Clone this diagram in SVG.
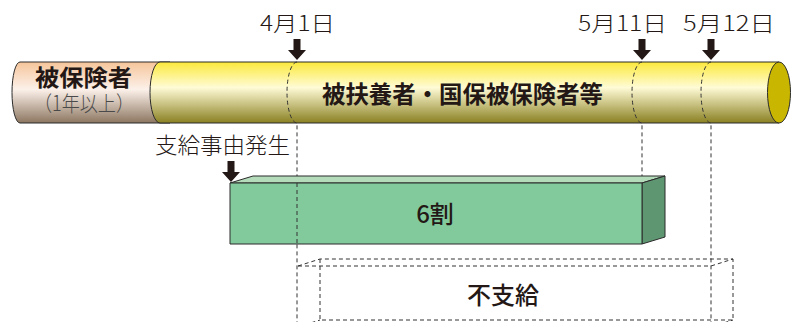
<svg xmlns="http://www.w3.org/2000/svg" width="797" height="322" viewBox="0 0 797 322">
<defs>
<linearGradient id="gPeach" x1="0" y1="0" x2="0" y2="1">
<stop offset="0" stop-color="#f6c59a"/>
<stop offset="0.45" stop-color="#fcf1ea"/>
<stop offset="1" stop-color="#8c7660"/>
</linearGradient>
<linearGradient id="gYellow" x1="0" y1="0" x2="0" y2="1">
<stop offset="0" stop-color="#fbe93a"/>
<stop offset="0.42" stop-color="#fffbd6"/>
<stop offset="1" stop-color="#8a8022"/>
</linearGradient>
<path id="arrow" d="M-3.5,0 H3.5 V11 H9 L0,21 L-9,11 H-3.5 Z"/>
</defs>
<style>
.lbl{font-family:"Noto Sans CJK JP","Noto Sans",sans-serif;fill:#231815;font-weight:300}
.bold{font-family:"Noto Sans CJK JP","Noto Sans",sans-serif;fill:#231815;font-weight:700}
.med{font-family:"Noto Sans CJK JP","Noto Sans",sans-serif;fill:#231815;font-weight:500}
.dash{fill:none;stroke:#333;stroke-width:1;stroke-dasharray:4 3}
.edge{stroke:#2b2b2b;stroke-width:1;stroke-linejoin:round}
.arr{fill:#231815}
</style>

<g id="cylinder">
<path class="edge" fill="url(#gPeach)" d="M20,62 H170 V123 H20 A8,30.5 0 0 1 20,62 Z"/>
<path class="edge" fill="url(#gYellow)" d="M160,62 H779 V123 H160 A10,30.5 0 0 1 160,62 Z"/>
<ellipse class="edge" cx="779" cy="92.5" rx="11.5" ry="30.5" fill="#c9b600"/>
<text font-family="Noto Sans CJK JP, Noto Sans, sans-serif"><tspan class="bold" x="35" y="86" font-size="23" textLength="97" lengthAdjust="spacingAndGlyphs">被保険者</tspan><tspan class="lbl" x="34" y="111" font-size="21" textLength="100" lengthAdjust="spacingAndGlyphs" style="fill:#4a4a4a">（1年以上）</tspan></text>
<text class="bold" x="322" y="103" font-size="24" textLength="281" lengthAdjust="spacingAndGlyphs">被扶養者・国保被保険者等</text>
</g>

<g id="connectors">
<path class="dash" d="M297,62 A10,30.5 0 0 0 297,123 V322"/>
<path class="dash" d="M642,62 A10,30.5 0 0 0 642,123 V183"/>
<path class="dash" d="M711,62 A10,30.5 0 0 0 711,123 V322"/>
<use href="#arrow" class="arr" x="297" y="39"/>
<use href="#arrow" class="arr" x="642" y="39"/>
<use href="#arrow" class="arr" x="711" y="39"/>
<use href="#arrow" class="arr" x="231" y="161"/>
</g>

<g id="date-labels">
<text class="lbl" x="260" y="31" font-size="21" textLength="75" lengthAdjust="spacingAndGlyphs">4月1日</text>
<text class="lbl" x="578" y="31" font-size="21" textLength="89" lengthAdjust="spacingAndGlyphs">5月11日</text>
<text class="lbl" x="683" y="31" font-size="21" textLength="92" lengthAdjust="spacingAndGlyphs">5月12日</text>
<text class="lbl" x="155" y="153" font-size="22" textLength="135" lengthAdjust="spacingAndGlyphs">支給事由発生</text>
</g>

<g id="box-6wari">
<path class="edge" fill="#b4dcba" d="M230,183 L253,176 H665 L642,183 Z"/>
<path class="edge" fill="#5e9672" d="M642,183 L665,176 V237 L642,244 Z"/>
<rect class="edge" x="230" y="183" width="412" height="61" fill="#82ca9c"/>
<path class="dash" d="M297,183 V244"/>
<text class="med" x="435" y="223" font-size="24" text-anchor="middle">6割</text>
</g>

<g id="box-fushikyu">
<path class="dash" d="M298,266 L320,259 H733 L711,266 M320,259 V320 H733 V259 M298,266 H711 M298,327 L320,320 M711,327 L733,320"/>
<text class="med" x="503" y="304" font-size="24" text-anchor="middle">不支給</text>
</g>
</svg>
